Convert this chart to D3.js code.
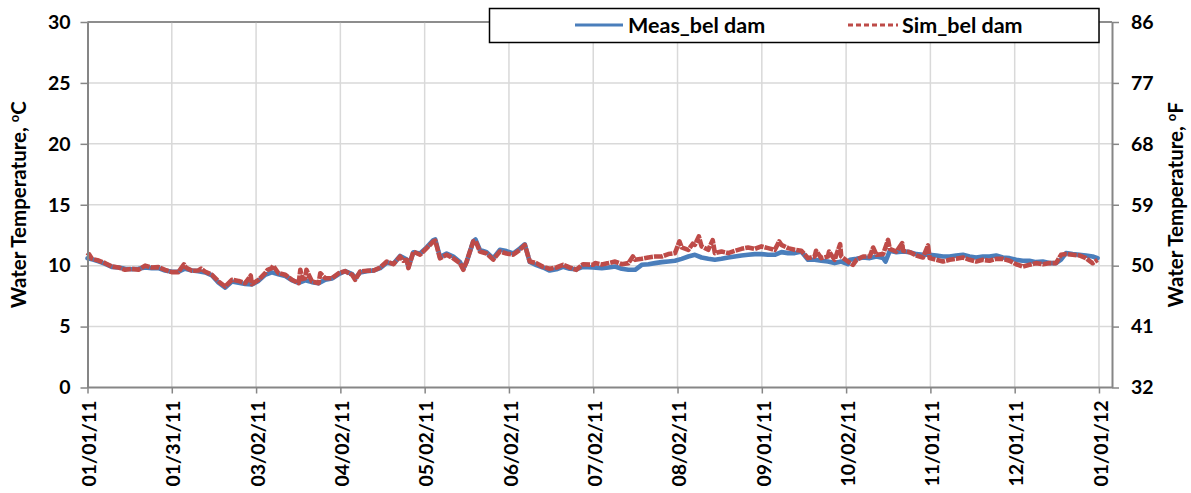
<!DOCTYPE html>
<html>
<head>
<meta charset="utf-8">
<script src="https://cdn.jsdelivr.net/npm/d3@7"></script>
<style>
  html, body { margin: 0; padding: 0; background: #fff; }
  svg { display: block; }
  text { font-family: Lato, "Open Sans", sans-serif; font-weight: 700; fill: #000; }
</style>
</head>
<body>
<svg id="chart" width="1191" height="493"></svg>
<script>
// Water temperature below the dam, 2011: measured vs simulated.
// Each point is [day of year offset from 01/01/11, temperature in °C].
const measured = [
  [0,10.6],[2,10.5],[4,10.35],[6.4,10.15],[8.8,9.9],[11.2,9.85],[13.6,9.75],[16,9.7],
  [18.4,9.75],[20.8,9.85],[23.2,9.8],[25.6,9.8],[28,9.6],[30.4,9.5],[32.8,9.5],[35.2,9.75],
  [37.7,9.6],[40,9.55],[42.5,9.45],[44.9,9.2],[47.3,8.6],[49.7,8.2],[52.1,8.7],[54.5,8.6],
  [56.9,8.5],[59.3,8.45],[61.7,8.75],[64.1,9.25],[66.5,9.45],[68.9,9.3],[71.4,9.15],[73.8,8.8],
  [76.2,8.6],[78.6,8.8],[81,8.65],[83.4,8.55],[85.8,8.85],[88.2,8.95],[90.6,9.3],[93,9.55],
  [95.5,9.3],[96.6,8.95],[98.4,9.45],[100.8,9.55],[103.2,9.6],[105.6,9.8],[108,10.25],[110.4,10.15],
  [112.8,10.8],[115.2,10.5],[115.8,9.9],[117.6,11.1],[120,11.0],[122.4,11.5],[124.8,12.1],[125.5,12.15],
  [127.2,10.7],[129.6,11.0],[132,10.75],[134.4,10.3],[135.6,9.75],[136.8,10.3],[139.2,12.0],[140,12.15],
  [141.6,11.3],[144,11.1],[146.4,10.6],[148.8,11.3],[151.2,11.2],[153.6,11.0],[156,11.4],[157.8,11.75],
  [159.6,10.3],[162,10.05],[164.4,9.85],[166.8,9.6],[169.2,9.7],[171.6,9.9],[174,9.75],[176.4,9.7],
  [178.8,9.9],[182.4,9.85],[185.6,9.8],[188,9.85],[190.4,9.93],[192.8,9.74],[195.2,9.66],[197.6,9.66],
  [200,10.07],[202.4,10.12],[204.8,10.21],[207.2,10.29],[209.6,10.34],[212,10.4],[214.4,10.56],[216.8,10.75],
  [219.2,10.89],[221.6,10.67],[224,10.56],[226.4,10.48],[228.8,10.56],[231.2,10.67],[233.6,10.75],[236,10.84],
  [238.4,10.89],[240.8,10.95],[243.2,10.95],[245.6,10.89],[248,10.89],[250.4,11.11],[252.8,11.03],[255.2,11.03],
  [257.6,11.16],[260,10.48],[262.4,10.48],[264.8,10.4],[267.2,10.34],[269.6,10.21],[272,10.34],[274.4,10.12],
  [275.1,10.48],[277.5,10.56],[279.9,10.67],[282.3,10.62],[284.7,10.75],[287.1,10.62],[288,10.34],[289.5,11.22],
  [291.9,11.11],[294.3,11.16],[296.7,11.11],[299.1,10.95],[301.5,10.89],[303.9,10.89],[306.3,10.84],[308.7,10.75],
  [311.1,10.75],[313.5,10.84],[315.9,10.89],[318.3,10.75],[320.7,10.67],[323.1,10.75],[325.5,10.75],[327.9,10.84],
  [330.3,10.67],[332.7,10.62],[335.1,10.48],[337.5,10.4],[339.9,10.4],[342.3,10.29],[344.7,10.34],[347.1,10.21],
  [349.5,10.21],[351.3,10.5],[353.1,11.03],[355.5,10.95],[357.9,10.89],[360.3,10.84],[362.7,10.75],[364.5,10.62]
];

const simulated = [
  [0,10.8],[0.5,10.95],[1.6,10.56],[4,10.42],[6.4,10.2],[8.8,9.93],[11.2,9.85],[13.6,9.66],
  [16,9.74],[18.4,9.66],[20.8,10.0],[23.2,9.85],[25.6,9.88],[28,9.66],[30.4,9.47],[32.8,9.47],
  [34.8,10.1],[35.5,9.85],[37.7,9.58],[40,9.6],[41,9.75],[42.5,9.5],[44.9,9.25],[47.3,8.7],
  [49.7,8.29],[52.1,8.84],[54.5,8.75],[56.9,8.56],[58.9,9.19],[59.3,8.48],[61.7,8.84],[64.1,9.38],
  [65,9.66],[66.5,9.8],[67,10.0],[68.9,9.38],[71.4,9.25],[73.8,8.84],[76.2,8.56],[76.8,9.66],
  [77.5,8.9],[78.6,8.97],[79,9.66],[81,8.7],[83.4,8.56],[84,9.38],[85.8,8.97],[88.2,8.97],
  [90.6,9.38],[93,9.55],[93.6,9.47],[95.5,9.25],[96.6,8.84],[98.4,9.52],[100.8,9.58],[103.2,9.6],
  [105.6,9.85],[108,10.34],[110.4,10.12],[112.8,10.75],[114,10.4],[115.2,10.48],[115.8,9.8],[117.6,11.16],
  [120,10.9],[122.4,11.44],[124.8,11.99],[125.5,12.05],[127.2,10.6],[129.6,10.9],[132,10.6],[134.4,10.2],
  [135.6,9.66],[136.8,10.34],[139.2,11.99],[140,12.05],[141.6,11.16],[144,11.0],[146.4,10.5],[148.8,11.16],
  [151.2,11.0],[153.6,10.9],[156,11.3],[157.8,11.7],[159.6,10.34],[162,10.2],[164.4,9.9],[166.8,9.75],
  [169.2,9.85],[171.6,10.07],[174,9.85],[176.4,9.66],[178.8,10.12],[182.4,10.07],[183.2,10.21],[185.6,10.1],
  [188,10.21],[190.4,10.34],[192.8,10.12],[195.2,10.21],[196.8,10.75],[197.6,10.48],[200,10.56],[202.4,10.67],
  [204.8,10.75],[207.2,10.75],[209.6,10.95],[212,11.03],[213.6,11.99],[214.4,11.5],[216.8,11.3],[218.4,11.8],
  [219.2,11.71],[220.6,12.4],[221.6,11.58],[224,11.3],[225.6,12.1],[226.4,11.03],[228.8,11.16],[231.2,11.03],
  [233.6,11.22],[236,11.38],[238.4,11.49],[240.8,11.38],[243.2,11.58],[245.6,11.44],[248,11.3],[249.6,11.99],
  [250.4,11.71],[252.8,11.44],[255.2,11.3],[257.6,11.22],[260,10.62],[262.4,10.75],[262.9,11.22],[264.8,10.62],
  [267.2,10.75],[267.6,11.16],[269.6,10.48],[271.6,11.77],[272,10.75],[274.4,10.34],[276.2,10.07],[277.5,10.48],
  [279.9,10.75],[282.3,10.75],[283.5,11.49],[284.7,10.89],[287.1,10.95],[288.9,12.12],[289.5,11.38],[291.9,11.16],
  [294,11.85],[294.3,11.22],[296.7,11.11],[299.1,10.84],[301.5,10.67],[303.3,11.66],[303.9,10.62],[306.3,10.48],
  [308.7,10.34],[311.1,10.48],[313.5,10.56],[315.9,10.67],[318.3,10.48],[320.7,10.34],[323.1,10.48],[325.5,10.4],
  [327.9,10.56],[330.3,10.56],[332.7,10.4],[335.1,10.12],[337.5,9.93],[339.9,10.07],[342.3,10.21],[344.7,10.12],
  [347.1,10.21],[349.5,10.21],[351.3,10.89],[353.1,10.95],[355.5,10.89],[357.9,10.84],[360.3,10.62],[362.7,10.2],
  [364.5,10.48]
];

const seriesNames = ["Meas_bel dam", "Sim_bel dam"];
const seriesColors = ["#4a7ebb", "#be4b48"];

// Category-axis labels, one every twelfth of the year
const xTickLabels = ["01/01/11","01/31/11","03/02/11","04/02/11","05/02/11","06/02/11","07/02/11",
                     "08/02/11","09/01/11","10/02/11","11/01/11","12/01/11","01/01/12"];
const yTicksC = [0, 5, 10, 15, 20, 25, 30];
const yTicksF = [32, 41, 50, 59, 68, 77, 86];

const DAY = 864e5;
const start = Date.UTC(2011, 0, 1);
const toDate = d => new Date(start + d * DAY);

const plotLeft = 87.5, plotRight = 1112, plotTop = 22, plotBottom = 387.5;

const svg = d3.select("#chart");

const x = d3.scaleUtc()
  .domain([toDate(0), toDate(369.7)])
  .range([plotLeft, plotRight]);
const yC = d3.scaleLinear().domain([0, 30]).range([plotBottom, plotTop]);
const yF = d3.scaleLinear().domain([32, 86]).range([plotBottom, plotTop]);

const tickDates = xTickLabels.map((_, i) => toDate(i * 365 / 12));

// Gridlines
svg.append("g").selectAll("line").data(yTicksC.slice(1)).join("line")
  .attr("x1", plotLeft).attr("x2", plotRight)
  .attr("y1", d => yC(d)).attr("y2", d => yC(d))
  .attr("stroke", d => d === 30 ? "#868686" : "#d9d9d9")
  .attr("stroke-width", 1.5);
svg.append("g").selectAll("line").data(tickDates.slice(1)).join("line")
  .attr("x1", d => x(d)).attr("x2", d => x(d))
  .attr("y1", plotTop).attr("y2", plotBottom)
  .attr("stroke", "#d9d9d9").attr("stroke-width", 1.5);

// Series
const line = d3.line()
  .x(d => x(toDate(d[0])))
  .y(d => yC(d[1]));

svg.append("path").datum(measured)
  .attr("d", line)
  .attr("fill", "none")
  .attr("stroke", seriesColors[0])
  .attr("stroke-width", 4.6)
  .attr("stroke-linejoin", "round")
  .attr("stroke-linecap", "round");

svg.append("path").datum(simulated)
  .attr("d", line)
  .attr("fill", "none")
  .attr("stroke", seriesColors[1])
  .attr("stroke-width", 4.6)
  .attr("stroke-dasharray", "9,1")
  .attr("stroke-linejoin", "round");

// Axes
const axisStyle = g => {
  g.select(".domain").attr("stroke", "#868686").attr("stroke-width", 2);
  g.selectAll(".tick line").attr("stroke", "#868686").attr("stroke-width", 1.5);
  g.selectAll("text").attr("font-size", 19.5).attr("font-family", "Lato, 'Open Sans', sans-serif")
    .attr("font-weight", 700).attr("fill", "#000");
};

svg.append("g")
  .attr("transform", `translate(${plotLeft},0)`)
  .call(d3.axisLeft(yC).tickValues(yTicksC).tickSize(7).tickPadding(10).tickSizeOuter(0))
  .call(axisStyle);

svg.append("g")
  .attr("transform", `translate(${plotRight},0)`)
  .call(d3.axisRight(yF).tickValues(yTicksF).tickSize(7).tickPadding(12).tickSizeOuter(0))
  .call(axisStyle);

const xAxis = svg.append("g")
  .attr("transform", `translate(0,${plotBottom})`)
  .call(d3.axisBottom(x).tickValues(tickDates).tickSize(6).tickSizeOuter(0)
    .tickFormat((d, i) => xTickLabels[i]))
  .call(axisStyle);
xAxis.select(".domain").attr("d", `M${plotLeft},0H${plotRight}`);
xAxis.selectAll(".tick text")
  .attr("transform", "rotate(-90)")
  .attr("text-anchor", "end")
  .attr("x", -13)
  .attr("y", 0)
  .attr("dy", "0.42em");

// Top border of the plot area
svg.append("line")
  .attr("x1", plotLeft).attr("x2", plotRight).attr("y1", plotTop).attr("y2", plotTop)
  .attr("stroke", "#868686").attr("stroke-width", 1.5);

// Axis titles
const titleC = svg.append("text")
  .attr("transform", `translate(26,${(plotTop + plotBottom) / 2}) rotate(-90)`)
  .attr("text-anchor", "middle")
  .attr("font-size", 20.5);
titleC.append("tspan").text("Water Temperature, ");
titleC.append("tspan").attr("font-size", 13).attr("dy", -7).text("o");
titleC.append("tspan").attr("dy", 7).text("C");

const titleF = svg.append("text")
  .attr("transform", `translate(1183,${(plotTop + plotBottom) / 2}) rotate(-90)`)
  .attr("text-anchor", "middle")
  .attr("font-size", 20.5);
titleF.append("tspan").text("Water Temperature, ");
titleF.append("tspan").attr("font-size", 13).attr("dy", -7).text("o");
titleF.append("tspan").attr("dy", 7).text("F");

// Legend
const legend = svg.append("g");
legend.append("rect")
  .attr("x", 489.5).attr("y", 8.5).attr("width", 609.5).attr("height", 34)
  .attr("fill", "#fff").attr("stroke", "#000").attr("stroke-width", 1.5);

const legendItems = [
  { name: seriesNames[0], color: seriesColors[0], dash: null, x0: 575, x1: 623, tx: 628 },
  { name: seriesNames[1], color: seriesColors[1], dash: "5,3", x0: 848, x1: 898, tx: 902 }
];
legendItems.forEach(it => {
  legend.append("line")
    .attr("x1", it.x0).attr("x2", it.x1).attr("y1", 25).attr("y2", 25)
    .attr("stroke", it.color).attr("stroke-width", 3)
    .attr("stroke-dasharray", it.dash);
  legend.append("text")
    .attr("x", it.tx).attr("y", 25).attr("dy", "0.36em")
    .attr("font-size", 21.5)
    .text(it.name);
});
</script>
</body>
</html>
